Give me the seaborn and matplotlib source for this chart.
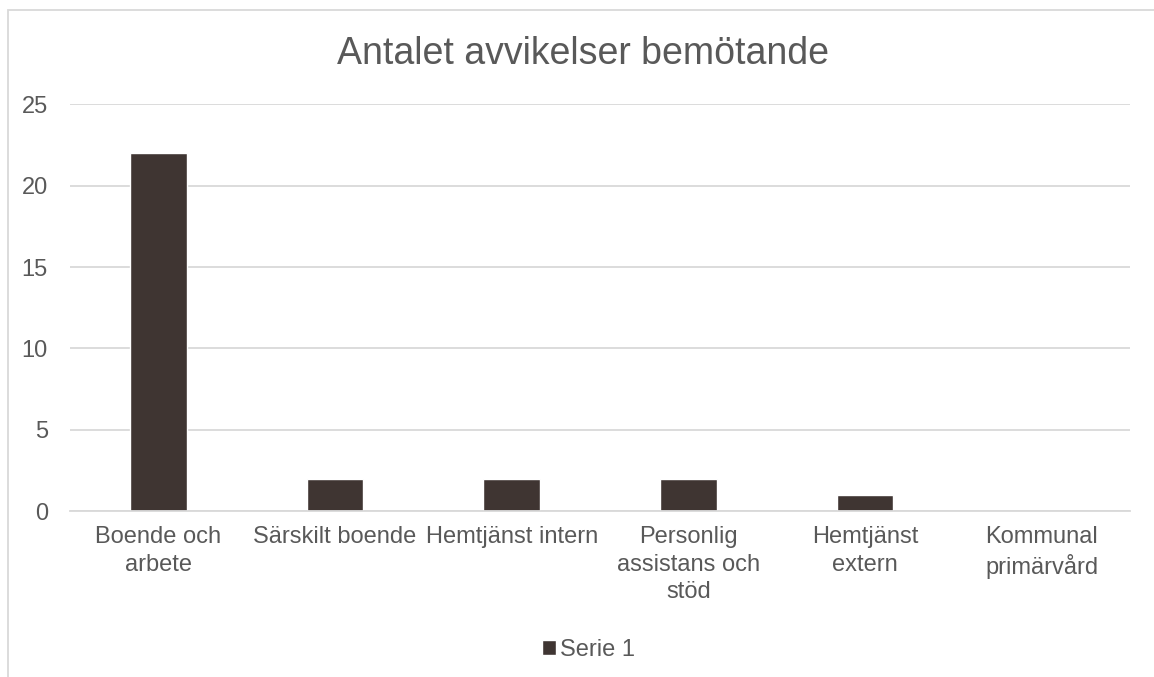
import matplotlib
matplotlib.use("Agg")
import matplotlib.pyplot as plt
from matplotlib.patches import Rectangle, Patch
import pandas as pd
import seaborn as sns


# ======================================
# DATA
# ======================================

categories = [
    "Boende och\narbete",
    "Särskilt boende",
    "Hemtjänst intern",
    "Personlig\nassistans och\nstöd",
    "Hemtjänst\nextern",
    "Kommunal\nprimärvård",
]

values = [22, 2, 2, 2, 1, 0]

y_ticks = [0, 5, 10, 15, 20, 25]

series_name = "Serie 1"


# ======================================
# STYLE
# ======================================

BAR_COLOR = "#3F3532"
TEXT_COLOR = "#595959"
GRID_COLOR = "#D9D9D9"

sns.set_theme(style="white")
plt.rcParams["font.family"] = ["Liberation Sans", "DejaVu Sans"]


# ======================================
# PLOT
# ======================================

df = pd.DataFrame({"category": categories, "value": values})

fig = plt.figure(figsize=(11.54, 6.77), dpi=100)

ax = fig.add_axes([0.0607, 0.245, 0.9185, 0.601])

sns.barplot(
    data=df,
    x="category",
    y="value",
    color=BAR_COLOR,
    saturation=1,
    width=0.32,
    ax=ax
)

ax.set_ylim(0, 25)
ax.set_xlim(-0.5, len(categories) - 0.5)
ax.set_yticks(y_ticks)

ax.yaxis.grid(True, color=GRID_COLOR, linewidth=1.3)
ax.set_axisbelow(True)

for side in ["top", "right", "left"]:
    ax.spines[side].set_visible(False)

ax.spines["bottom"].set_color(GRID_COLOR)
ax.spines["bottom"].set_linewidth(1.3)

ax.tick_params(axis="both", length=0, labelsize=17, labelcolor=TEXT_COLOR)
ax.tick_params(axis="x", pad=11)
ax.tick_params(axis="y", pad=16)

for label in ax.get_xticklabels():
    label.set_linespacing(1.3)

ax.set_xlabel("")
ax.set_ylabel("")

fig.text(
    0.505, 0.92,
    "Antalet avvikelser bemötande",
    ha="center", va="center",
    fontsize=27, color=TEXT_COLOR
)

fig.legend(
    handles=[Patch(facecolor=BAR_COLOR, label=series_name)],
    loc="center",
    bbox_to_anchor=(0.51, 0.04),
    frameon=False,
    fontsize=17,
    labelcolor=TEXT_COLOR,
    handlelength=0.6,
    handleheight=0.6,
    handletextpad=0.15
)

# chart area border (top and left edges visible)
fig.patches.append(Rectangle(
    (0.0069, -0.05), 1.1, 1.035,
    transform=fig.transFigure,
    fill=False,
    edgecolor=GRID_COLOR,
    linewidth=1.3
))

fig.savefig("out.png", dpi=100)
